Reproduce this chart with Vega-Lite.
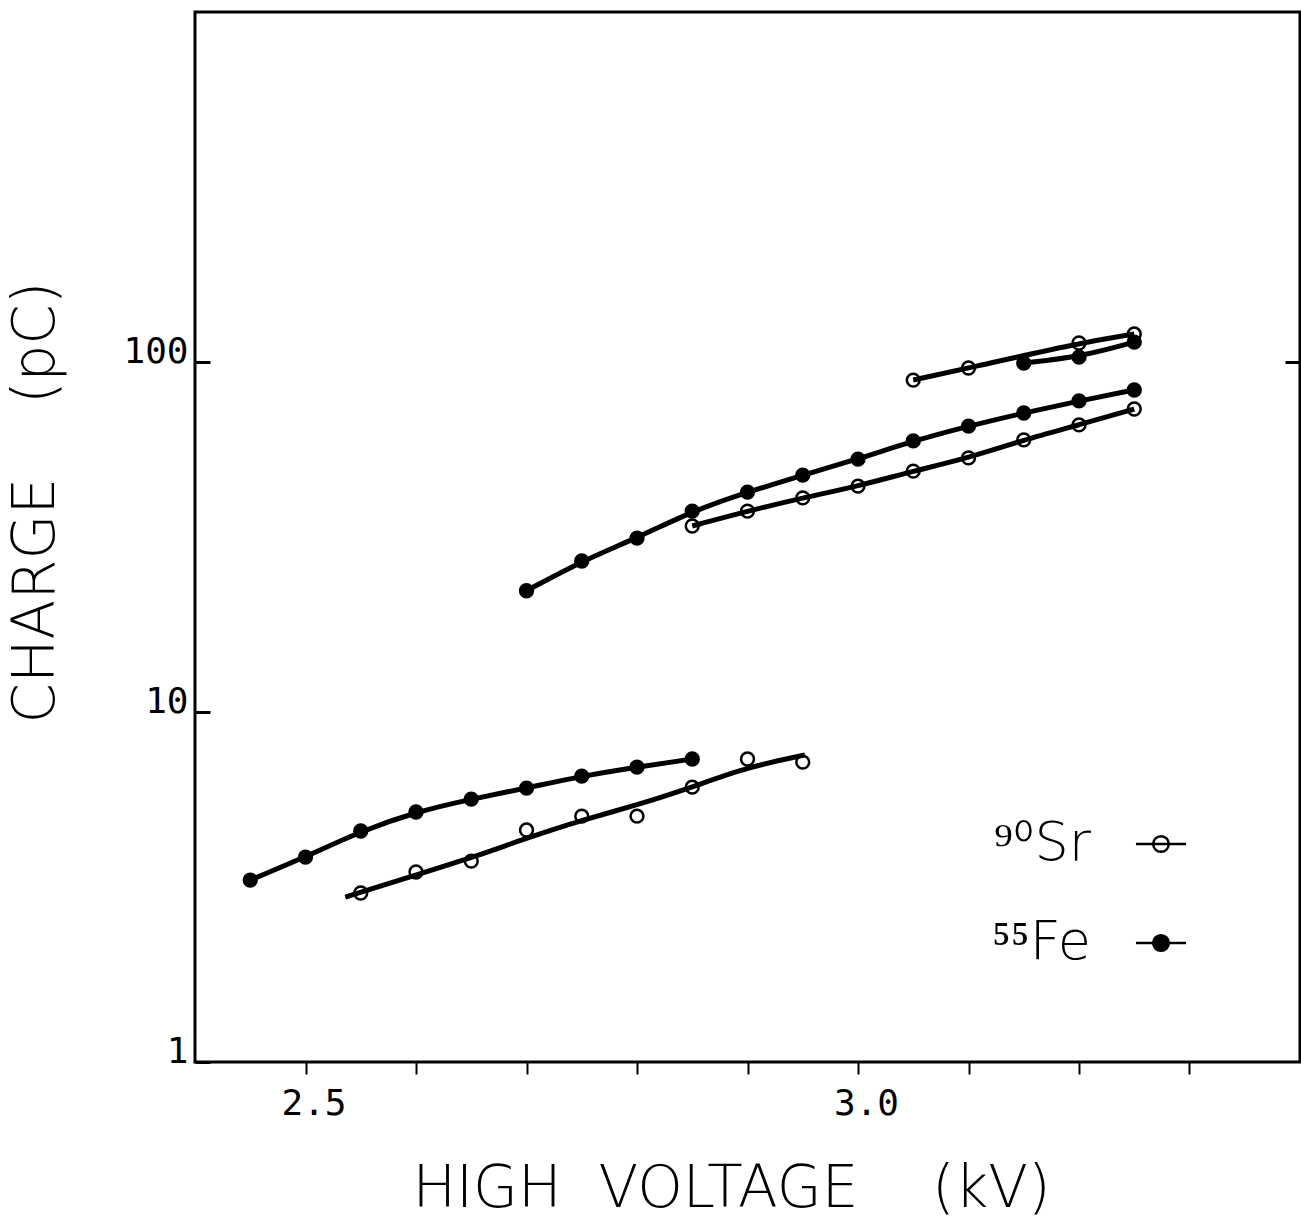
{
  "$schema": "https://vega.github.io/schema/vega-lite/v6.json",
  "width": 1105,
  "height": 1050,
  "autosize": {"type": "none"},
  "padding": {"left": 195, "top": 12, "right": 1, "bottom": 161},
  "background": "white",
  "config": {
    "view": {"stroke": "black", "strokeWidth": 3},
    "axis": {"grid": false, "domain": false, "tickColor": "black", "labelColor": "black", "titleColor": "black", "labelFlush": false, "labelOverlap": false, "labelBound": false}
  },
  "data": {
    "values": [
      {"isotope": "⁵⁵Fe", "run": "Fe1", "role": "point", "hv": 2.45, "q": 3.31},
      {"isotope": "⁵⁵Fe", "run": "Fe1", "role": "point", "hv": 2.50, "q": 3.85},
      {"isotope": "⁵⁵Fe", "run": "Fe1", "role": "point", "hv": 2.55, "q": 4.57},
      {"isotope": "⁵⁵Fe", "run": "Fe1", "role": "point", "hv": 2.60, "q": 5.18},
      {"isotope": "⁵⁵Fe", "run": "Fe1", "role": "point", "hv": 2.65, "q": 5.64},
      {"isotope": "⁵⁵Fe", "run": "Fe1", "role": "point", "hv": 2.70, "q": 6.06},
      {"isotope": "⁵⁵Fe", "run": "Fe1", "role": "point", "hv": 2.75, "q": 6.56},
      {"isotope": "⁵⁵Fe", "run": "Fe1", "role": "point", "hv": 2.80, "q": 6.96},
      {"isotope": "⁵⁵Fe", "run": "Fe1", "role": "point", "hv": 2.85, "q": 7.34},
      {"isotope": "⁹⁰Sr", "run": "Sr1", "role": "point", "hv": 2.55, "q": 3.04},
      {"isotope": "⁹⁰Sr", "run": "Sr1", "role": "point", "hv": 2.60, "q": 3.49},
      {"isotope": "⁹⁰Sr", "run": "Sr1", "role": "point", "hv": 2.65, "q": 3.75},
      {"isotope": "⁹⁰Sr", "run": "Sr1", "role": "point", "hv": 2.70, "q": 4.60},
      {"isotope": "⁹⁰Sr", "run": "Sr1", "role": "point", "hv": 2.75, "q": 5.04},
      {"isotope": "⁹⁰Sr", "run": "Sr1", "role": "point", "hv": 2.80, "q": 5.04},
      {"isotope": "⁹⁰Sr", "run": "Sr1", "role": "point", "hv": 2.85, "q": 6.10},
      {"isotope": "⁹⁰Sr", "run": "Sr1", "role": "point", "hv": 2.90, "q": 7.34},
      {"isotope": "⁹⁰Sr", "run": "Sr1", "role": "point", "hv": 2.95, "q": 7.19},
      {"isotope": "⁹⁰Sr", "run": "Sr1", "role": "curve", "hv": 2.536, "q": 2.96},
      {"isotope": "⁹⁰Sr", "run": "Sr1", "role": "curve", "hv": 2.60, "q": 3.42},
      {"isotope": "⁹⁰Sr", "run": "Sr1", "role": "curve", "hv": 2.65, "q": 3.83},
      {"isotope": "⁹⁰Sr", "run": "Sr1", "role": "curve", "hv": 2.70, "q": 4.36},
      {"isotope": "⁹⁰Sr", "run": "Sr1", "role": "curve", "hv": 2.75, "q": 4.91},
      {"isotope": "⁹⁰Sr", "run": "Sr1", "role": "curve", "hv": 2.80, "q": 5.42},
      {"isotope": "⁹⁰Sr", "run": "Sr1", "role": "curve", "hv": 2.85, "q": 6.10},
      {"isotope": "⁹⁰Sr", "run": "Sr1", "role": "curve", "hv": 2.90, "q": 6.96},
      {"isotope": "⁹⁰Sr", "run": "Sr1", "role": "curve", "hv": 2.952, "q": 7.54},
      {"isotope": "⁵⁵Fe", "run": "Fe2", "role": "point", "hv": 2.70, "q": 22.2},
      {"isotope": "⁵⁵Fe", "run": "Fe2", "role": "point", "hv": 2.75, "q": 27.0},
      {"isotope": "⁵⁵Fe", "run": "Fe2", "role": "point", "hv": 2.80, "q": 31.4},
      {"isotope": "⁵⁵Fe", "run": "Fe2", "role": "point", "hv": 2.85, "q": 37.5},
      {"isotope": "⁵⁵Fe", "run": "Fe2", "role": "point", "hv": 2.90, "q": 42.5},
      {"isotope": "⁵⁵Fe", "run": "Fe2", "role": "point", "hv": 2.95, "q": 47.5},
      {"isotope": "⁵⁵Fe", "run": "Fe2", "role": "point", "hv": 3.00, "q": 52.8},
      {"isotope": "⁵⁵Fe", "run": "Fe2", "role": "point", "hv": 3.05, "q": 59.5},
      {"isotope": "⁵⁵Fe", "run": "Fe2", "role": "point", "hv": 3.10, "q": 65.6},
      {"isotope": "⁵⁵Fe", "run": "Fe2", "role": "point", "hv": 3.15, "q": 71.5},
      {"isotope": "⁵⁵Fe", "run": "Fe2", "role": "point", "hv": 3.20, "q": 77.4},
      {"isotope": "⁵⁵Fe", "run": "Fe2", "role": "point", "hv": 3.25, "q": 83.2},
      {"isotope": "⁹⁰Sr", "run": "Sr2", "role": "point", "hv": 2.85, "q": 34.0},
      {"isotope": "⁹⁰Sr", "run": "Sr2", "role": "point", "hv": 2.90, "q": 37.5},
      {"isotope": "⁹⁰Sr", "run": "Sr2", "role": "point", "hv": 2.95, "q": 40.9},
      {"isotope": "⁹⁰Sr", "run": "Sr2", "role": "point", "hv": 3.00, "q": 44.2},
      {"isotope": "⁹⁰Sr", "run": "Sr2", "role": "point", "hv": 3.05, "q": 48.8},
      {"isotope": "⁹⁰Sr", "run": "Sr2", "role": "point", "hv": 3.10, "q": 53.2},
      {"isotope": "⁹⁰Sr", "run": "Sr2", "role": "point", "hv": 3.15, "q": 59.9},
      {"isotope": "⁹⁰Sr", "run": "Sr2", "role": "point", "hv": 3.20, "q": 66.1},
      {"isotope": "⁹⁰Sr", "run": "Sr2", "role": "point", "hv": 3.25, "q": 73.4},
      {"isotope": "⁹⁰Sr", "run": "Sr3", "role": "point", "hv": 3.05, "q": 88.8},
      {"isotope": "⁹⁰Sr", "run": "Sr3", "role": "point", "hv": 3.10, "q": 96.1},
      {"isotope": "⁹⁰Sr", "run": "Sr3", "role": "point", "hv": 3.20, "q": 113.3},
      {"isotope": "⁹⁰Sr", "run": "Sr3", "role": "point", "hv": 3.25, "q": 120.2},
      {"isotope": "⁵⁵Fe", "run": "Fe3", "role": "point", "hv": 3.15, "q": 99.3},
      {"isotope": "⁵⁵Fe", "run": "Fe3", "role": "point", "hv": 3.20, "q": 103.3},
      {"isotope": "⁵⁵Fe", "run": "Fe3", "role": "point", "hv": 3.25, "q": 114.0}
    ]
  },
  "layer": [
    {
      "transform": [{"filter": "datum.role == 'curve' || (datum.role == 'point' && datum.run != 'Sr1')"}],
      "mark": {"type": "line", "interpolate": "basis", "color": "black", "strokeWidth": 5},
      "encoding": {
        "x": {
          "field": "hv", "type": "quantitative",
          "scale": {"domain": [2.4, 3.4], "nice": false, "zero": false},
          "axis": {
            "values": [2.5, 2.6, 2.7, 2.8, 2.9, 3.0, 3.1, 3.2, 3.3],
            "labelExpr": "datum.value == 2.5 || datum.value == 3 ? format(datum.value, '.1f') : ''",
            "tickSize": 12, "tickWidth": 2,
            "labelFont": "DejaVu Sans Mono", "labelFontSize": 36, "labelPadding": 12, "labelOffset": 8,
            "title": "HIGH\u00a0\u00a0VOLTAGE\u00a0\u00a0\u00a0\u00a0(kV)",
            "titleFont": "DejaVu Sans", "titleFontSize": 58, "titleFontWeight": 200,
            "titleX": 536, "titleY": 144, "titleBaseline": "alphabetic", "titleAlign": "center"
          }
        },
        "y": {
          "field": "q", "type": "quantitative",
          "scale": {"type": "log", "domain": [1, 1000], "nice": false},
          "axis": {
            "values": [1, 10, 100],
            "format": "d",
            "tickSize": -15, "tickWidth": 3,
            "labelFont": "DejaVu Sans Mono", "labelFontSize": 36, "labelPadding": 22, "labelBaseline": "alphabetic",
            "title": "CHARGE\u00a0\u00a0\u00a0\u00a0(pC)",
            "titleFont": "DejaVu Sans", "titleFontSize": 58, "titleFontWeight": 200,
            "titleX": -142, "titleY": 490, "titleBaseline": "alphabetic", "titleAlign": "center", "titleAngle": -90
          }
        },
        "detail": {"field": "run"}
      }
    },
    {
      "transform": [{"filter": "datum.role == 'point'"}],
      "mark": {"type": "point", "shape": "circle", "size": 165, "stroke": "black", "strokeWidth": 2.5, "opacity": 1},
      "encoding": {
        "x": {"field": "hv", "type": "quantitative"},
        "y": {"field": "q", "type": "quantitative", "axis": null},
        "fill": {
          "field": "isotope", "type": "nominal",
          "scale": {"domain": ["⁹⁰Sr", "⁵⁵Fe"], "range": ["transparent", "black"]},
          "legend": {
            "orient": "none", "legendX": 939, "legendY": 805, "padding": 0,
            "title": null,
            "labelFont": "DejaVu Sans", "labelFontSize": 54, "labelFontWeight": 200, "labelColor": "black",
            "labelAlign": "right", "labelOffset": -97, "labelLimit": 0,
            "symbolType": "M-1.6,0H1.6M-0.5,0A0.5,0.5,0,1,1,0.5,0A0.5,0.5,0,1,1,-0.5,0Z",
            "symbolSize": 980, "symbolStrokeColor": "black", "symbolStrokeWidth": 2.5,
            "rowPadding": 45
          }
        }
      }
    },
    {
      "mark": {"type": "point", "opacity": 0},
      "encoding": {
        "x": {"field": "hv", "type": "quantitative"},
        "y": {
          "field": "q", "type": "quantitative",
          "axis": {"orient": "right", "values": [100], "labels": false, "tickSize": -15, "tickWidth": 3, "title": null}
        }
      }
    }
  ],
  "resolve": {"axis": {"y": "independent"}}
}
